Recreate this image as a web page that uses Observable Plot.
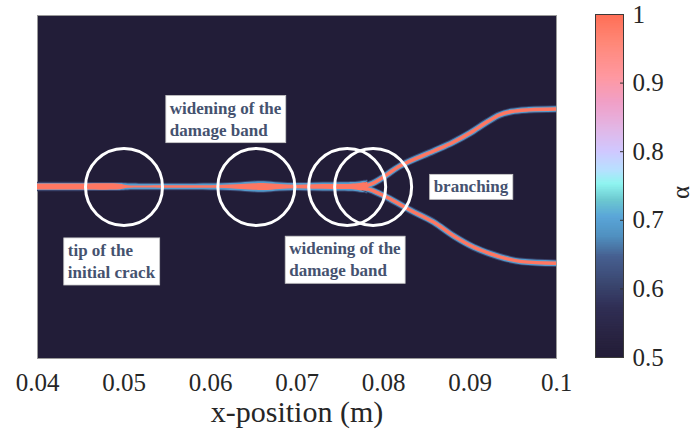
<!DOCTYPE html>
<html>
<head>
<meta charset="utf-8">
<script src="https://cdn.jsdelivr.net/npm/d3@7"></script>
<script src="https://cdn.jsdelivr.net/npm/@observablehq/plot@0.6"></script>
<style>
  html, body { margin: 0; padding: 0; background: #fff; }
  #chart { position: relative; width: 692px; height: 441px; overflow: hidden; }
  #chart svg { position: absolute; top: 0; }
</style>
</head>
<body>
<div id="chart"></div>
<script>
// ---- data ----
const xTicks = [0.04, 0.05, 0.06, 0.07, 0.08, 0.09, 0.1];
const barTicks = [0.5, 0.6, 0.7, 0.8, 0.9, 1];

// colormap of the damage variable alpha
const alphaStops  = [0.50, 0.525, 0.573, 0.612, 0.646, 0.676, 0.705, 0.729, 0.753, 0.773, 0.80, 0.83, 0.87, 0.909, 0.958, 1.00];
const alphaColors = ["#221d38", "#28223f", "#302f55", "#3c4a74", "#465f90", "#5090c0", "#5aa6d8", "#6cc8d0", "#8ff5f0", "#b8e0ff", "#d0c8ff", "#e0b8e8", "#f0a0c8", "#ff98a0", "#ff8878", "#ff6e55"];

// main crack (trunk): position, core half-width, halo half-width (m)
const trunkX    = [0.0400, 0.0450, 0.0495, 0.0505, 0.0550, 0.0600, 0.0630, 0.0650, 0.0662, 0.0680, 0.0700, 0.0720, 0.0740, 0.0760, 0.0770, 0.0776, 0.0782];
const trunkY    = [0, 0, 0, 0, 0, 0, 0, 0, 0, 0, 0, 0, 0, 0, 0, 0, 0];
const trunkCore = [0.00035, 0.00035, 0.00033, 0.00016, 0.00014, 0.00016, 0.00026, 0.00037, 0.00041, 0.00028, 0.00021, 0.00026, 0.00028, 0.00030, 0.00037, 0.00047, 0.00052];
const trunkHalo = [0.00042, 0.00042, 0.00040, 0.00035, 0.00033, 0.00035, 0.00044, 0.00058, 0.00061, 0.00047, 0.00040, 0.00044, 0.00047, 0.00049, 0.00054, 0.00064, 0.00070];

// branches
const upperX = [0.0776, 0.0787, 0.0820, 0.0858, 0.0880, 0.0900, 0.0920, 0.0934, 0.0948, 0.0968, 0.1000];
const upperY = [0.0000, 0.0004, 0.0025, 0.0042, 0.0052, 0.0063, 0.0076, 0.0084, 0.0088, 0.0090, 0.0091];
const lowerX = [0.0776, 0.0787, 0.0804, 0.0831, 0.0858, 0.0881, 0.0904, 0.0924, 0.0940, 0.0960, 0.1000];
const lowerY = [0.0000, -0.0004, -0.0012, -0.0027, -0.0041, -0.0057, -0.0070, -0.0078, -0.0083, -0.0087, -0.0089];

// highlighted zones (circle centres)
const circleX = [0.0500, 0.0653, 0.0758, 0.0788];
const circleY = [0, 0, 0, 0];

// annotations
const noteText = ["widening of the\ndamage band", "tip of the\ninitial crack", "widening of the\ndamage band", "branching"];
const noteX = [0.0553, 0.0435, 0.0691, 0.0858];
const noteY = [0.0081, -0.0085, -0.0083, 0.0002];

// ---- build ----
const SERIF = "'Liberation Serif', 'Times New Roman', Times, serif";
const colorOpts = {type: "linear", domain: alphaStops, range: alphaColors};
const trunk = trunkX.map((x, i) => ({x, y: trunkY[i], core: trunkCore[i], halo: trunkHalo[i]}));
const upper = upperX.map((x, i) => ({x, y: upperY[i]}));
const lower = lowerX.map((x, i) => ({x, y: lowerY[i]}));
const circles = circleX.map((x, i) => ({x, y: circleY[i]}));
const notes = noteText.map((t, i) => ({t, x: noteX[i], y: noteY[i]}));
const HALO2 = 0.00012;

const branchMarks = [];
for (const [val, w] of [[0.6, 7.5], [0.69, 5.6], [0.985, 3.4]]) {
  for (const br of [upper, lower]) {
    branchMarks.push(Plot.line(br, {x: "x", y: "y", stroke: () => val, strokeWidth: w, strokeLinecap: "butt", curve: "monotone-x", clip: true}));
  }
}

const main = Plot.plot({
  width: 592, height: 441,
  marginLeft: 37, marginRight: 36, marginTop: 15, marginBottom: 83,
  x: {domain: [0.04, 0.1]},
  y: {domain: [-0.02, 0.02], axis: null},
  color: colorOpts,
  style: {fontFamily: SERIF, color: "#262626", background: "transparent"},
  marks: [
    Plot.frame({fill: alphaColors[0], stroke: "#9a9a9a"}),
    Plot.areaY(trunk, {x: "x", y1: d => d.y - d.halo - HALO2, y2: d => d.y + d.halo + HALO2, fill: () => 0.6, curve: "catmull-rom"}),
    Plot.areaY(trunk, {x: "x", y1: d => d.y - d.halo, y2: d => d.y + d.halo, fill: () => 0.69, curve: "catmull-rom"}),
    ...branchMarks,
    Plot.areaY(trunk, {x: "x", y1: d => d.y - d.core, y2: d => d.y + d.core, fill: () => 0.985, curve: "catmull-rom"}),
    Plot.dot(circles, {x: "x", y: "y", r: 38.5, stroke: "white", strokeWidth: 3, fill: "none"}),
    Plot.text(notes, {x: "x", y: "y", text: "t", textAnchor: "start", lineAnchor: "middle", fontWeight: "bold",
      fontFamily: SERIF, fontSize: 17, lineHeight: 1.3, fill: "#45526f", className: "note"}),
    Plot.axisX({ticks: xTicks, tickSize: 0, tickPadding: 15, fontSize: 25, fontFamily: SERIF, label: null,
      tickFormat: d => String(+d.toFixed(2))}),
    Plot.text(["x-position (m)"], {frameAnchor: "bottom", dy: 63, fontSize: 30, fontFamily: SERIF, fill: "#262626"})
  ]
});
main.style.left = "0px";

const step = 0.0025;
const levels = d3.range(0.5, 1, step);
const bar = Plot.plot({
  width: 132, height: 441,
  marginLeft: 35, marginRight: 69, marginTop: 14, marginBottom: 84,
  x: {domain: [0, 1], axis: null},
  y: {domain: [0.5, 1]},
  color: colorOpts,
  style: {fontFamily: SERIF, color: "#262626", background: "transparent"},
  marks: [
    Plot.rect(levels, {x1: 0, x2: 1, y1: d => d, y2: d => Math.min(1, d + step * 1.6), fill: d => d + step / 2}),
    Plot.tickY(barTicks.slice(1, -1), {y: d => d, insetLeft: 25, stroke: "#333"}),
    Plot.frame({stroke: "#3a3a3a"}),
    Plot.axisY({anchor: "right", ticks: barTicks, tickSize: 0, tickPadding: 9, fontSize: 25, fontFamily: SERIF, label: null,
      tickFormat: d => String(+d.toFixed(1))}),
    Plot.text(["α"], {frameAnchor: "right", dx: 57, rotate: -90, fontSize: 25, fontFamily: SERIF, fill: "#262626"})
  ]
});
bar.style.left = "560px";

const chart = document.getElementById("chart");
chart.appendChild(main);
chart.appendChild(bar);

// white boxes behind the annotations
main.querySelectorAll("g.note text").forEach(t => {
  const b = t.getBBox();
  const r = document.createElementNS("http://www.w3.org/2000/svg", "rect");
  r.setAttribute("x", b.x - 4);
  r.setAttribute("y", b.y - 3);
  r.setAttribute("width", b.width + 8);
  r.setAttribute("height", b.height + 6);
  r.setAttribute("fill", "white");
  r.setAttribute("stroke", "#c8c8c8");
  r.setAttribute("stroke-width", "0.8");
  if (t.getAttribute("transform")) r.setAttribute("transform", t.getAttribute("transform"));
  t.parentNode.insertBefore(r, t);
});
</script>
</body>
</html>
